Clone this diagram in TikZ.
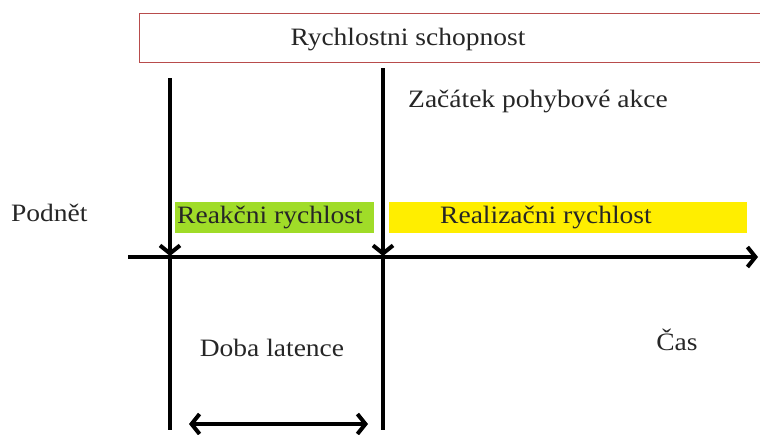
\documentclass[tikz,border=0pt]{standalone}
\usepackage{fontspec}
\setmainfont[FakeStretch=1.1]{Liberation Serif}
\usetikzlibrary{arrows.meta}
\tikzset{barb/.tip={Straight Barb[length=8pt,width=20pt,line width=4pt]}}
\begin{document}
\begin{tikzpicture}[x=1pt,y=-1pt,
  lbl/.style={font=\fontsize{25}{30}\selectfont, inner sep=0pt, text=black!85},
  axis/.style={line width=4pt, -{barb}},
  vline/.style={line width=4pt},
  band/.style={inner sep=0pt, minimum height=31pt}]
\useasboundingbox (0,0) rectangle (760,434);
\node[draw=red!60!black!70, fill=white, line width=0.8pt, minimum width=640pt, minimum height=49pt, inner sep=0pt, anchor=north west] (title) at (139,13) {};
\node[lbl] (titletxt) at (408,40) {Rychlostni schopnost};
\node[band, fill={rgb,255:red,160;green,220;blue,40}, minimum width=199pt, anchor=north west] (green) at (175,202) {};
\node[lbl, anchor=west] (greentxt) at (177,217) {Reakčni rychlost};
\node[band, fill={rgb,255:red,255;green,238;blue,0}, minimum width=358pt, anchor=north west] (yellow) at (389,202) {};
\node[lbl, anchor=west] (yellowtxt) at (440,217) {Realizačni rychlost};
\coordinate (axL) at (128,257);
\coordinate (axR) at (758,257);
\draw[axis] (axL) -- (axR);
\coordinate (v1top) at (170,78);
\coordinate (v1mid) at (170,256);
\coordinate (v1bot) at (170,430);
\coordinate (v2top) at (383,68);
\coordinate (v2mid) at (383,256);
\coordinate (v2bot) at (383,430);
\draw[axis] (v1top) -- (v1mid);
\draw[vline] (v1mid) -- (v1bot);
\draw[axis] (v2top) -- (v2mid);
\draw[vline] (v2mid) -- (v2bot);
\node[lbl, anchor=west] (podnet) at (11,213) {Podnět};
\node[lbl, anchor=west] (zacatek) at (408,101) {Začátek pohybové akce};
\node[lbl] (doba) at (272,348) {Doba latence};
\node[lbl] (cas) at (677,340) {Čas};
\coordinate (dL) at (189,424);
\coordinate (dR) at (368,424);
\draw[line width=4pt, {barb}-{barb}] (dL) -- (dR);
\end{tikzpicture}
\end{document}
